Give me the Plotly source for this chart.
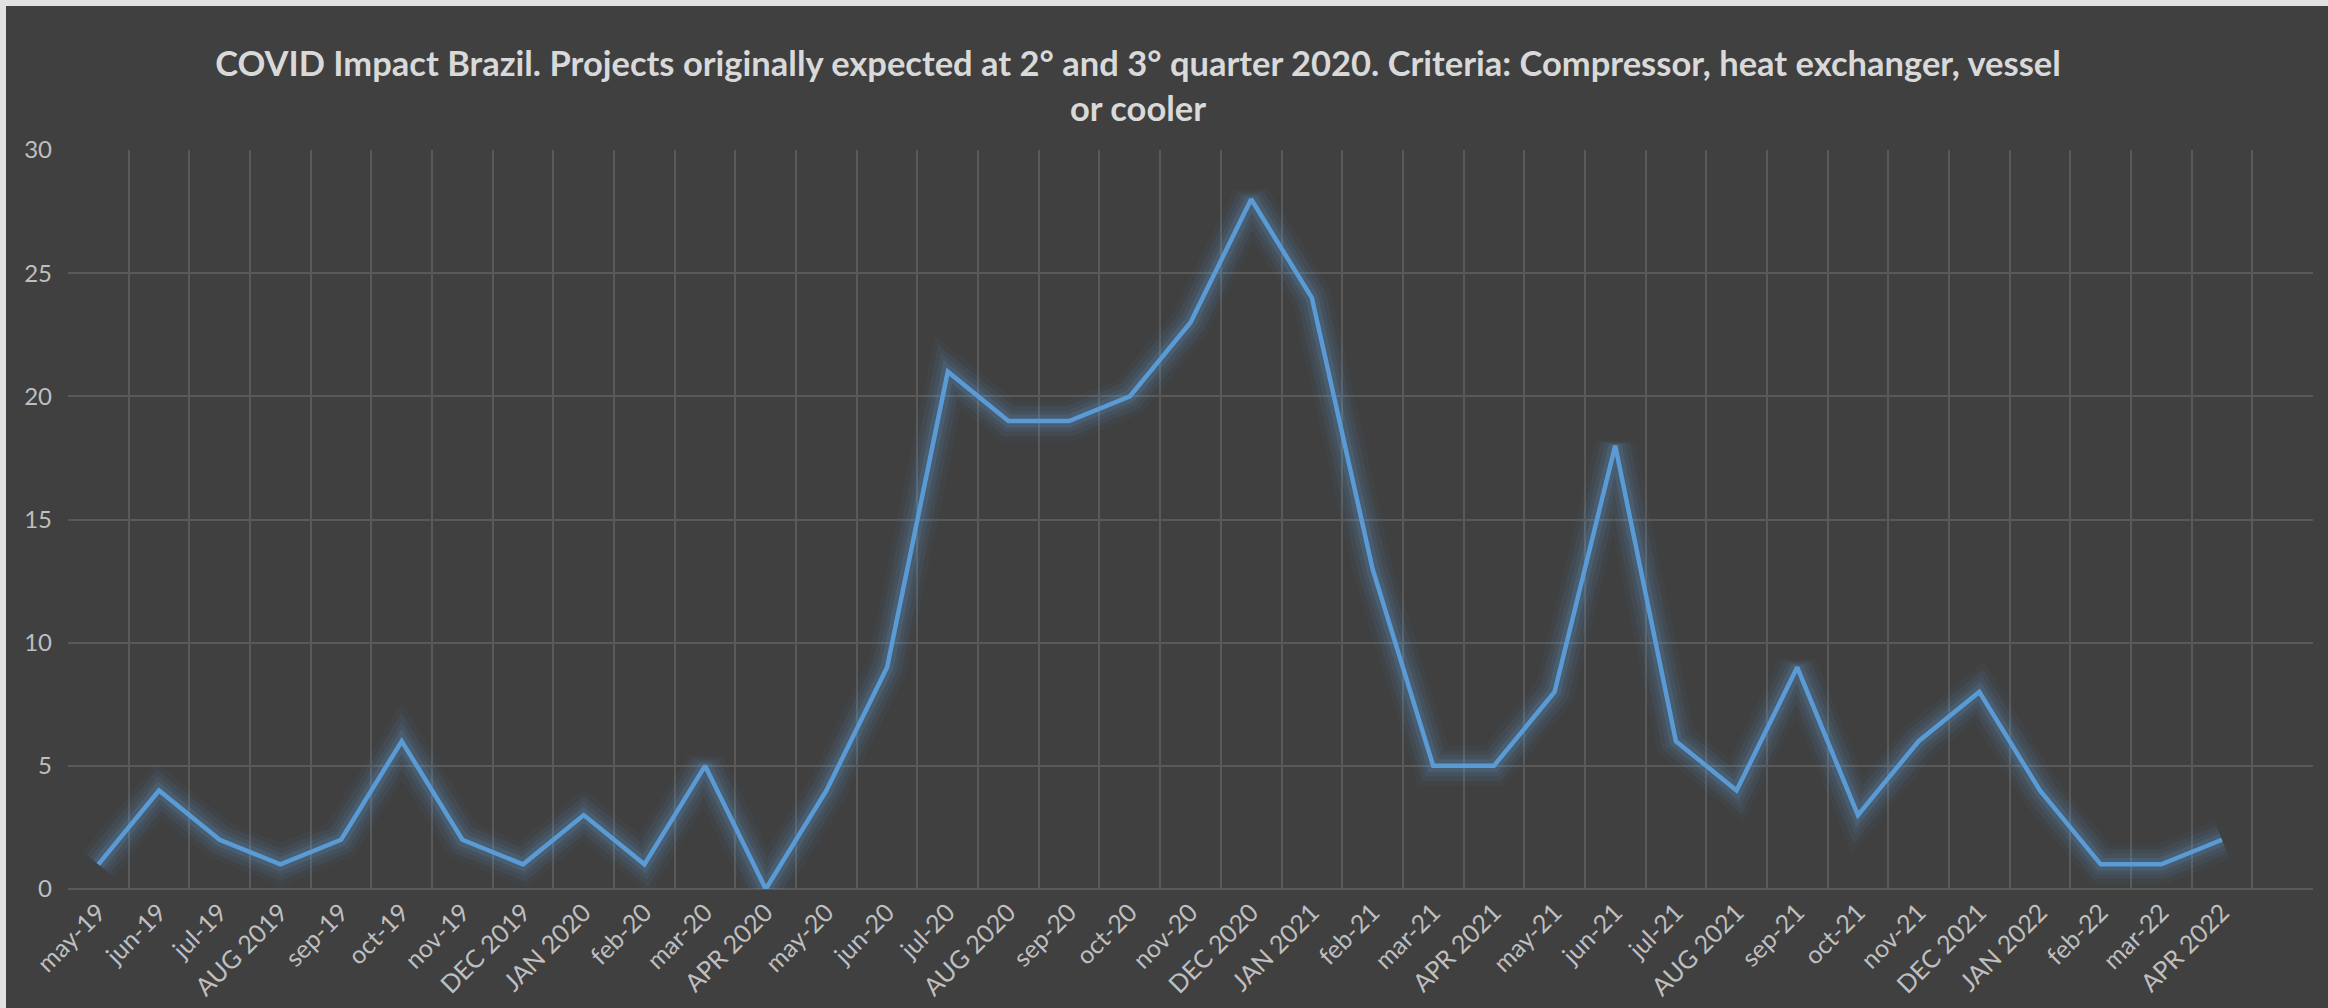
import plotly.graph_objects as go

categories = ["may-19", "jun-19", "jul-19", "AUG 2019", "sep-19", "oct-19", "nov-19", "DEC 2019",
              "JAN 2020", "feb-20", "mar-20", "APR 2020", "may-20", "jun-20", "jul-20", "AUG 2020",
              "sep-20", "oct-20", "nov-20", "DEC 2020", "JAN 2021", "feb-21", "mar-21", "APR 2021",
              "may-21", "jun-21", "jul-21", "AUG 2021", "sep-21", "oct-21", "nov-21", "DEC 2021",
              "JAN 2022", "feb-22", "mar-22", "APR 2022"]
values = [1, 4, 2, 1, 2, 6, 2, 1, 3, 1, 5, 0, 4, 9, 21, 19, 19, 20, 23, 28, 24, 13, 5, 5,
          8, 18, 6, 4, 9, 3, 6, 8, 4, 1, 1, 2]
y_ticks = [0, 5, 10, 15, 20, 25, 30]

title_text = ("COVID Impact Brazil. Projects originally expected at 2° and 3° quarter 2020. "
              "Criteria: Compressor, heat exchanger, vessel<br>or cooler")

W, H = 2328, 1008
L, R, T, B = 68, 15, 150, 119
pw, ph = W - L - R, H - T - B

xs = list(range(len(categories)))

fig = go.Figure()
# glow layers
for width, alpha in [(40, 0.05), (30, 0.075), (21, 0.1), (13, 0.16)]:
    fig.add_trace(go.Scatter(x=xs, y=values, mode="lines",
                             line=dict(color=f"rgba(91,155,213,{alpha})", width=width),
                             hoverinfo="skip", showlegend=False))
fig.add_trace(go.Scatter(x=xs, y=values, mode="lines",
                         line=dict(color="#5B9BD5", width=4.5),
                         showlegend=False, name="Projects"))

# dark chart area with thin light border on top/left
fig.add_shape(type="rect", xref="paper", yref="paper", layer="below",
              x0=(6 - L) / pw, x1=(W - L + 10) / pw,
              y0=-(B + 10) / ph, y1=1 + (T - 6) / ph,
              fillcolor="#404040", line=dict(width=0))

fig.update_layout(
    width=W, height=H,
    margin=dict(l=L, r=R, t=T, b=B, autoexpand=False),
    paper_bgcolor="#e2e2e2",
    plot_bgcolor="rgba(0,0,0,0)",
    font=dict(family="Lato, Open Sans, sans-serif", color="#bfbfbf"),
    title=dict(text=title_text, x=1138 / W, xanchor="center", xref="container",
               y=1 - 76 / H, yanchor="top",
               font=dict(size=34.5, color="#d9d9d9", family="Lato, sans-serif", weight="bold")),
    xaxis=dict(range=[-0.5, len(categories) + 0.5], tickmode="array", tickvals=xs, ticktext=categories,
               tickangle=-45, showgrid=False, zeroline=False, showline=False, ticks="",
               automargin=False, ticklabelstandoff=3,
               tickfont=dict(size=25, color="#bfbfbf"),
               minor=dict(tickmode="linear", tick0=-0.5, dtick=1, showgrid=True,
                          gridcolor="#595959", gridwidth=1.5, ticks="")),
    yaxis=dict(range=[0, 30], tickmode="array", tickvals=y_ticks, showgrid=True,
               gridcolor="#595959", gridwidth=1.5, zeroline=True, zerolinecolor="#595959",
               zerolinewidth=1.5, showline=False, ticks="", ticklabelstandoff=15,
               automargin=False,
               tickfont=dict(size=24, color="#bfbfbf")),
)

fig.write_html("out.html", config={"displayModeBar": False},
               post_script="document.body.style.margin='0';document.body.style.overflow='hidden';")
